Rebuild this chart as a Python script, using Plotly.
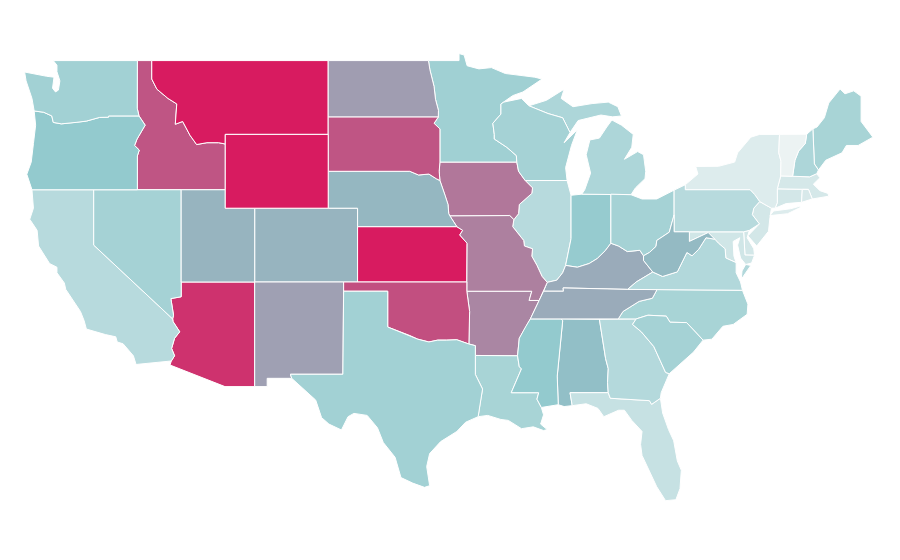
import plotly.graph_objects as go
from plotly.colors import sample_colorscale

# State values and the colour scale.
states = ["AL","AZ","AR","CA","CO","CT","DE","DC","FL","GA","ID","IL","IN","IA","KS","KY","LA","ME","MD","MA","MI","MN","MS","MO","MT","NE","NV","NH","NJ","NM","NY","NC","ND","OH","OK","OR","PA","RI","SC","SD","TN","TX","UT","VT","VA","WA","WV","WI","WY"]
values = [43,92,63,24,47,13,13,12,18,25,80,24,37,68,100,50,30,30,14,12,28,33,38,65,100,46,31,28,13,54,9,30,55,31,82,38,24,11,31,80,50,32,47,3,26,32,45,31,100]
colors = [[0,"#f4f6f6"],[0.4,"#8ec8cc"],[1,"#d81b60"]]

# Base map: plotly's geo topojson is fetched from a CDN and cannot load offline,
# so the state boundaries are approximate lon/lat outlines traced by hand.
outlines = {
"WA":[[(-124.7,48.38),(-124.6,47.9),(-124.2,46.95),(-124.05,46.27),(-123.4,46.2),(-122.85,46.0),(-122.75,45.65),(-122.2,45.57),(-121.2,45.65),(-120.5,45.72),(-119.6,45.92),(-119.0,45.93),(-118.98,46.0),(-116.92,46.0),(-117.04,46.42),(-117.03,49),(-122.75,49),(-122.5,48.75),(-122.5,48.4),(-122.3,47.9),(-122.4,47.4),(-122.6,47.3),(-122.8,47.5),(-122.7,48.1),(-123.2,48.15)]],
"OR":[[(-124.05,46.27),(-123.95,45.5),(-124.1,44.5),(-124.25,43.5),(-124.55,42.84),(-124.2,42),(-117.03,42),(-117.03,43.83),(-116.9,44.15),(-117.22,44.4),(-117.05,44.75),(-116.85,45.0),(-116.5,45.5),(-116.92,46.0),(-118.98,46.0),(-119.0,45.93),(-119.6,45.92),(-120.5,45.72),(-121.2,45.65),(-122.2,45.57),(-122.75,45.65),(-122.85,46.0),(-123.4,46.2)]],
"ID":[[(-117.03,49),(-116.05,49),(-116.05,48),(-115.7,47.45),(-114.95,46.95),(-114.35,46.65),(-114.45,45.55),(-113.95,45.7),(-113.45,44.95),(-113.0,44.45),(-112.3,44.55),(-111.5,44.55),(-111.05,44.48),(-111.05,42),(-117.03,42),(-117.03,43.83),(-116.9,44.15),(-117.22,44.4),(-117.05,44.75),(-116.85,45.0),(-116.5,45.5),(-116.92,46.0),(-117.04,46.42)]],
"MT":[[(-116.05,49),(-104.05,49),(-104.05,45),(-111.05,45),(-111.05,44.48),(-111.5,44.55),(-112.3,44.55),(-113.0,44.45),(-113.45,44.95),(-113.95,45.7),(-114.45,45.55),(-114.35,46.65),(-114.95,46.95),(-115.7,47.45),(-116.05,48)]],
"WY":[[(-111.05,45),(-104.05,45),(-104.05,41),(-111.05,41)]],
"ND":[[(-104.05,49),(-97.23,49),(-97.13,48.5),(-96.85,47.6),(-96.75,46.9),(-96.55,46.3),(-96.56,45.94),(-104.05,45.94)]],
"SD":[[(-104.05,45.94),(-96.56,45.94),(-96.85,45.6),(-96.45,45.3),(-96.45,43.5),(-96.5,43.0),(-96.45,42.5),(-96.7,42.6),(-97.2,42.85),(-97.9,42.8),(-98.5,43),(-104.05,43)]],
"NE":[[(-104.05,43),(-98.5,43),(-97.9,42.8),(-97.2,42.85),(-96.7,42.6),(-96.45,42.5),(-96.1,41.7),(-95.9,41.2),(-95.85,40.7),(-95.77,40.58),(-95.3,40),(-102.05,40),(-102.05,41),(-104.05,41)]],
"KS":[[(-102.05,40),(-95.3,40),(-94.9,39.8),(-95.1,39.55),(-94.6,39.1),(-94.62,37),(-102.05,37)]],
"CO":[[(-109.05,41),(-102.05,41),(-102.05,37),(-109.05,37)]],
"NM":[[(-109.05,37),(-103,37),(-103.05,32),(-106.62,32),(-106.53,31.78),(-108.2,31.78),(-108.2,31.33),(-109.05,31.33)]],
"OK":[[(-103,37),(-94.62,37),(-94.62,36.5),(-94.43,35.4),(-94.48,33.64),(-95.3,33.87),(-96,33.85),(-96.6,33.85),(-97.2,33.75),(-97.95,33.9),(-98.5,34.1),(-99.2,34.3),(-100,34.56),(-100,36.5),(-103,36.5)]],
"TX":[[(-103,36.5),(-100,36.5),(-100,34.56),(-99.2,34.3),(-98.5,34.1),(-97.95,33.9),(-97.2,33.75),(-96.6,33.85),(-96,33.85),(-95.3,33.87),(-94.48,33.64),(-94.04,33.55),(-94.04,33.02),(-94.04,31.99),(-93.55,31.2),(-93.7,30.5),(-93.85,29.7),(-94.7,29.4),(-95.3,28.9),(-96.4,28.35),(-97.15,27.7),(-97.35,27),(-97.15,25.96),(-97.5,25.87),(-98.3,26.1),(-99.1,26.4),(-99.5,27.5),(-100.3,28.3),(-100.7,29.1),(-101.4,29.77),(-102.3,29.88),(-102.7,29.7),(-103.15,28.98),(-104,29.3),(-104.5,29.65),(-104.9,30.6),(-106,31.4),(-106.53,31.78),(-106.62,32),(-103.05,32)]],
"AZ":[[(-114.05,37),(-109.05,37),(-109.05,31.33),(-111.07,31.33),(-114.81,32.5),(-114.72,32.72),(-114.5,33),(-114.7,33.4),(-114.5,33.95),(-114.15,34.3),(-114.6,34.85),(-114.63,35),(-114.57,35.2),(-114.75,36.1),(-114.05,36.2)]],
"UT":[[(-114.05,42),(-111.05,42),(-111.05,41),(-109.05,41),(-109.05,37),(-114.05,37)]],
"NV":[[(-120,42),(-114.05,42),(-114.05,36.2),(-114.75,36.1),(-114.57,35.2),(-114.63,35),(-120,39)]],
"CA":[[(-124.2,42),(-120,42),(-120,39),(-114.63,35),(-114.6,34.85),(-114.15,34.3),(-114.5,33.95),(-114.7,33.4),(-114.5,33),(-114.72,32.72),(-117.12,32.53),(-117.3,33),(-118,33.65),(-118.4,33.75),(-118.5,34.03),(-119.2,34.15),(-120.5,34.45),(-120.65,34.9),(-120.9,35.4),(-121.9,36.6),(-122,36.95),(-122.5,37.5),(-122.5,37.8),(-123,38),(-123.75,38.95),(-123.85,39.8),(-124.35,40.4),(-124.1,41)]],
"MN":[[(-97.23,49),(-95.15,49),(-95.15,49.38),(-94.8,49.3),(-94.6,48.72),(-93.8,48.55),(-92.95,48.62),(-92,48.3),(-91,48.2),(-90,48.1),(-89.5,48),(-90.8,47.3),(-91.5,47.1),(-92.1,46.75),(-92.3,46.65),(-92.3,46.1),(-92.85,45.6),(-92.75,45),(-92.75,44.75),(-91.9,44.3),(-91.25,43.85),(-91.22,43.5),(-96.45,43.5),(-96.45,45.3),(-96.85,45.6),(-96.56,45.94),(-96.55,46.3),(-96.75,46.9),(-96.85,47.6),(-97.13,48.5)]],
"IA":[[(-96.45,43.5),(-91.22,43.5),(-91.1,43),(-90.65,42.5),(-90.15,42.1),(-90.2,41.8),(-91.05,41.2),(-91.1,40.7),(-91.42,40.38),(-91.7,40.6),(-95.77,40.58),(-95.85,40.7),(-95.9,41.2),(-96.1,41.7),(-96.45,42.5),(-96.5,43)]],
"MO":[[(-95.77,40.58),(-91.7,40.6),(-91.42,40.38),(-91.5,40),(-90.75,39.25),(-90.7,38.95),(-90.15,38.8),(-90.2,38.4),(-89.85,37.9),(-89.5,37.3),(-89.15,36.98),(-89.4,36.5),(-89.7,36),(-90.38,36),(-90.2,36.5),(-94.62,36.5),(-94.62,37),(-94.6,39.1),(-95.1,39.55),(-94.9,39.8),(-95.3,40)]],
"AR":[[(-94.62,36.5),(-90.2,36.5),(-90.38,36),(-89.7,36),(-90.3,35),(-90.6,34.6),(-91.05,33.95),(-91.17,33),(-94.04,33.02),(-94.04,33.55),(-94.48,33.64),(-94.43,35.4)]],
"LA":[[(-94.04,33.02),(-91.17,33),(-91.05,32.4),(-90.9,32.3),(-91.6,31),(-89.73,31),(-89.85,30.65),(-89.55,30.2),(-89.4,29.8),(-89.6,29.3),(-89.15,29),(-89.4,28.95),(-90.1,29.15),(-90.9,29.05),(-91.8,29.5),(-92.3,29.55),(-93.2,29.77),(-93.85,29.7),(-93.7,30.5),(-93.55,31.2),(-94.04,31.99)]],
"MS":[[(-91.17,33),(-91.05,33.95),(-90.6,34.6),(-90.3,35),(-88.2,35),(-88.1,34.9),(-88.47,31.9),(-88.4,30.35),(-89.55,30.2),(-89.85,30.65),(-89.73,31),(-91.6,31),(-90.9,32.3),(-91.05,32.4)]],
"AL":[[(-88.2,35),(-85.6,34.98),(-85.18,32.85),(-85,32.3),(-85.05,31.55),(-85,31),(-87.6,31),(-87.45,30.3),(-88,30.25),(-88.4,30.35),(-88.47,31.9),(-88.1,34.9)]],
"GA":[[(-85.6,34.98),(-83.1,35),(-83.35,34.7),(-82.75,34.3),(-81.9,33.5),(-81.4,32.6),(-81.1,32.1),(-80.85,32.03),(-81.4,31),(-81.45,30.7),(-82.05,30.37),(-82.2,30.57),(-84.86,30.7),(-85,31),(-85.05,31.55),(-85,32.3),(-85.18,32.85)]],
"FL":[[(-87.6,31),(-85,31),(-84.86,30.7),(-82.2,30.57),(-82.05,30.37),(-81.45,30.7),(-81.3,29.9),(-80.9,29),(-80.55,28.4),(-80.3,27.3),(-80.03,26.8),(-80.12,25.8),(-80.4,25.2),(-81.1,25.15),(-81.7,25.9),(-82.1,26.6),(-82.7,27.6),(-82.8,28.2),(-82.7,28.9),(-83.4,29.5),(-83.9,30.05),(-84.3,30.05),(-85.3,29.7),(-85.7,30.15),(-86.5,30.4),(-87.45,30.3)]],
"SC":[[(-83.1,35),(-82.3,35.2),(-81.05,35.15),(-80.8,34.82),(-79.67,34.8),(-78.55,33.85),(-79.2,33.2),(-79.9,32.7),(-80.85,32.03),(-81.1,32.1),(-81.4,32.6),(-81.9,33.5),(-82.75,34.3),(-83.35,34.7)]],
"NC":[[(-84.32,35),(-83.1,35),(-82.3,35.2),(-81.05,35.15),(-80.8,34.82),(-79.67,34.8),(-78.55,33.85),(-77.95,33.9),(-77.2,34.6),(-76.5,34.7),(-75.55,35.25),(-75.5,35.8),(-75.87,36.55),(-81.68,36.59),(-82,36.12),(-82.9,35.95),(-84,35.4)]],
"TN":[[(-90.3,35),(-84.32,35),(-84,35.4),(-82.9,35.95),(-82,36.12),(-81.68,36.59),(-83.68,36.6),(-88.07,36.68),(-88.05,36.5),(-89.4,36.5),(-89.7,36)]],
"KY":[[(-89.4,36.5),(-88.05,36.5),(-88.07,36.68),(-83.68,36.6),(-83.1,37),(-81.97,37.54),(-82.6,38.17),(-82.6,38.42),(-82.85,38.72),(-83.7,38.65),(-84.3,38.95),(-84.82,39.1),(-85.2,38.7),(-85.75,38.27),(-86.3,38),(-87.1,37.8),(-87.9,37.9),(-88.1,37.5),(-88.5,37.1),(-89.15,36.98)]],
"VA":[[(-83.68,36.6),(-81.68,36.59),(-75.87,36.55),(-76,37),(-76.3,37.5),(-76.3,38.05),(-77,38.3),(-77.05,38.8),(-77.5,39.1),(-77.75,39.32),(-78.35,39.4),(-78.85,38.77),(-79.3,38.42),(-79.65,38.6),(-80.3,37.55),(-81.3,37.3),(-81.97,37.54),(-83.1,37)],[(-75.95,37.15),(-75.3,37.9),(-75.65,37.95),(-75.9,37.6)]],
"WV":[[(-81.97,37.54),(-81.3,37.3),(-80.3,37.55),(-79.65,38.6),(-79.3,38.42),(-78.85,38.77),(-78.35,39.4),(-77.75,39.32),(-78.2,39.68),(-79.48,39.2),(-79.48,39.72),(-80.52,39.72),(-80.52,40.64),(-80.85,39.7),(-81.7,39.25),(-81.75,38.93),(-82.2,38.6),(-82.6,38.42),(-82.6,38.17)]],
"OH":[[(-84.82,41.76),(-83.45,41.73),(-82.7,41.5),(-81.7,41.5),(-80.52,41.98),(-80.52,40.64),(-80.85,39.7),(-81.7,39.25),(-81.75,38.93),(-82.2,38.6),(-82.6,38.42),(-82.85,38.72),(-83.7,38.65),(-84.3,38.95),(-84.82,39.1)]],
"IN":[[(-87.53,41.7),(-87.2,41.72),(-86.8,41.76),(-84.82,41.76),(-84.82,39.1),(-85.2,38.7),(-85.75,38.27),(-86.3,38),(-87.1,37.8),(-87.9,37.9),(-87.53,39.35)]],
"IL":[[(-90.65,42.5),(-87.8,42.5),(-87.53,41.7),(-87.53,39.35),(-87.9,37.9),(-88.1,37.5),(-88.5,37.1),(-89.15,36.98),(-89.5,37.3),(-89.85,37.9),(-90.2,38.4),(-90.15,38.8),(-90.7,38.95),(-90.75,39.25),(-91.5,40),(-91.42,40.38),(-91.1,40.7),(-91.05,41.2),(-90.2,41.8),(-90.15,42.1)]],
"WI":[[(-92.1,46.75),(-90.9,46.95),(-90.4,46.55),(-89.1,46.13),(-88.1,45.9),(-87.6,45.1),(-88,44.55),(-87.1,45.25),(-87.5,44.4),(-87.9,43.2),(-87.8,42.5),(-90.65,42.5),(-91.1,43),(-91.22,43.5),(-91.25,43.85),(-91.9,44.3),(-92.75,44.75),(-92.75,45),(-92.85,45.6),(-92.3,46.1),(-92.3,46.65)]],
"MI":[[(-86.8,41.76),(-84.82,41.76),(-83.45,41.73),(-83.15,42.1),(-82.5,42.6),(-82.45,43),(-82.6,43.9),(-83,44.07),(-83.9,43.65),(-83.4,44.3),(-83.3,45),(-84.1,45.5),(-84.75,45.78),(-85.1,45.4),(-85.6,44.8),(-86.25,44.7),(-86.5,43.9),(-86.2,42.9),(-86.6,42)],[(-90.4,46.55),(-89.1,46.13),(-88.1,45.9),(-87.6,45.1),(-87.05,45.75),(-86.3,45.9),(-85.5,46.05),(-84.7,45.95),(-84.1,46),(-84.35,46.5),(-85,46.75),(-86.1,46.67),(-87.4,46.5),(-88.2,46.95),(-88,47.45),(-89.2,46.85)]],
"PA":[[(-80.52,41.98),(-79.76,42.27),(-79.76,42),(-75.35,42),(-75.05,41.75),(-74.7,41.36),(-75.1,41),(-75.2,40.65),(-74.72,40.15),(-75.4,39.8),(-75.79,39.72),(-80.52,39.72)]],
"NY":[[(-79.76,42),(-79.76,42.27),(-78.9,42.85),(-79.05,43.26),(-77.5,43.27),(-76.4,43.5),(-76.2,44),(-75.3,44.85),(-74.7,45),(-73.35,45),(-73.4,44),(-73.25,43.55),(-73.27,42.75),(-73.5,42.05),(-73.5,41.3),(-73.65,41),(-73.9,41),(-74.7,41.36),(-75.05,41.75),(-75.35,42)],[(-74,40.6),(-73.75,40.85),(-72.6,40.97),(-72,41.1),(-71.9,41.05),(-72.8,40.7)]],
"NJ":[[(-74.7,41.36),(-73.9,41),(-74,40.5),(-74.1,39.75),(-74.9,38.95),(-75.5,39.5),(-74.72,40.15),(-75.2,40.65),(-75.1,41)]],
"DE":[[(-75.79,39.72),(-75.4,39.8),(-75.55,39.4),(-75.1,38.8),(-75.05,38.45),(-75.7,38.46)]],
"MD":[[(-79.48,39.72),(-75.79,39.72),(-75.7,38.46),(-75.05,38.45),(-75.25,38.03),(-75.65,37.95),(-76,38.3),(-76.2,39),(-76.05,39.4),(-76.5,39.2),(-76.45,38.4),(-76.3,38.05),(-77,38.3),(-77.05,38.8),(-77.5,39.1),(-77.75,39.32),(-78.2,39.68),(-79.48,39.2)]],
"DC":[[(-77.12,38.93),(-77.04,39),(-76.91,38.89),(-77.04,38.79)]],
"VT":[[(-73.35,45),(-71.5,45.01),(-71.6,44.5),(-72.05,44.1),(-72.3,43.6),(-72.46,42.73),(-73.27,42.75),(-73.25,43.55),(-73.4,44)]],
"NH":[[(-71.5,45.01),(-71.08,45.3),(-70.98,43.4),(-70.7,43.07),(-70.82,42.87),(-71.3,42.7),(-72.46,42.73),(-72.3,43.6),(-72.05,44.1),(-71.6,44.5)]],
"ME":[[(-71.08,45.3),(-70.8,45.4),(-70.3,45.9),(-70,46.7),(-69.23,47.46),(-68.9,47.2),(-68.3,47.36),(-67.8,47.07),(-67.8,45.7),(-67.45,45.3),(-67,44.85),(-68,44.4),(-68.8,44.4),(-69.1,44),(-70.2,43.6),(-70.7,43.07),(-70.98,43.4)]],
"MA":[[(-73.5,42.05),(-73.27,42.75),(-71.3,42.7),(-70.82,42.87),(-70.6,42.65),(-71.05,42.3),(-70.6,41.95),(-70.05,41.8),(-70,41.65),(-70.6,41.55),(-71.12,41.5),(-71.38,42.02),(-71.8,42.02)]],
"RI":[[(-71.8,42.02),(-71.38,42.02),(-71.12,41.5),(-71.85,41.32)]],
"CT":[[(-73.5,42.05),(-71.8,42.02),(-71.85,41.32),(-72.9,41.25),(-73.65,41),(-73.5,41.3)]],
}

fig = go.Figure()
for code, value in zip(states, values):
    xs, ys = [], []
    for ring in outlines[code]:
        xs += [p[0] for p in ring] + [ring[0][0], None]
        ys += [p[1] for p in ring] + [ring[0][1], None]
    fill = sample_colorscale(colors, [value / 100])[0]
    fig.add_trace(go.Scatter(x=xs, y=ys, mode="lines", fill="toself", fillcolor=fill,
                             line=dict(color="white", width=1), name=code,
                             text=f"{code}: {value}", hoverinfo="text", showlegend=False))

fig.update_xaxes(visible=False, range=[-125.83, -64.61], fixedrange=True)
fig.update_yaxes(visible=False, range=[21.5, 51.85], fixedrange=True)
fig.update_layout(width=900, height=560, margin=dict(l=0, r=0, t=0, b=0),
                  paper_bgcolor="white", plot_bgcolor="white")
fig.write_html("out.html")
